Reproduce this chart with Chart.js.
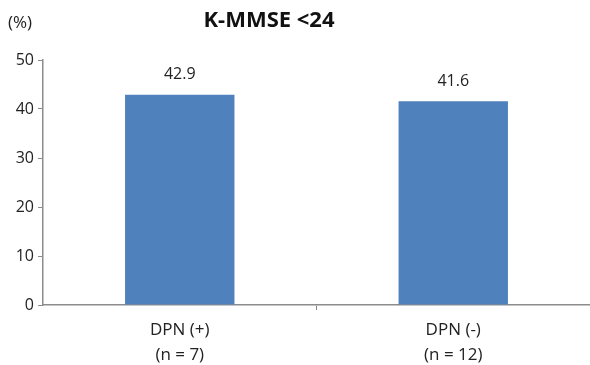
<!DOCTYPE html>
<html>
<head>
<meta charset="utf-8">
<script src="https://cdn.jsdelivr.net/npm/chart.js@4"></script>
<style>
  html, body { margin: 0; padding: 0; background: #fff; }
  #wrap { width: 590px; height: 365px; }
</style>
</head>
<body>
<div id="wrap"><canvas id="chart"></canvas></div>
<script>
const groups = [["DPN (+)", "(n = 7)"], ["DPN (-)", "(n = 12)"]];
const percents = [42.9, 41.6];
const yTicks = [0, 10, 20, 30, 40, 50];

const fontFamily = "'Open Sans', 'Noto Sans', sans-serif";

// value labels over bars, plus the title and the (%) unit
const extraText = {
    id: 'extraText',
    afterDatasetsDraw(chart) {
        const ctx = chart.ctx;
        ctx.save();
        ctx.fillStyle = '#222';
        ctx.font = "16px " + fontFamily;
        ctx.textAlign = 'center';
        ctx.textBaseline = 'bottom';
        chart.getDatasetMeta(0).data.forEach(function(bar, i) {
            ctx.fillText(percents[i].toFixed(1), bar.x, bar.y - 12);
        });
        ctx.font = "bold 22px " + fontFamily;
        ctx.fillStyle = '#111';
        ctx.textBaseline = 'middle';
        ctx.fillText("K-MMSE <24", 269, 21);
        ctx.font = "17px " + fontFamily;
        ctx.fillStyle = '#222';
        ctx.textAlign = 'left';
        ctx.fillText("(%)", 8, 23);
        ctx.restore();
    }
};

new Chart(document.getElementById("chart").getContext("2d"), {
    type: 'bar',
    data: {
        labels: groups,
        datasets: [{
            data: percents,
            backgroundColor: '#4F81BD',
            categoryPercentage: 0.4,
            barPercentage: 1.0
        }]
    },
    options: {
        responsive: true,
        maintainAspectRatio: false,
        animation: false,
        layout: { padding: { top: 60, right: 0, left: 0, bottom: 0 } },
        plugins: {
            legend: { display: false },
            tooltip: { enabled: false }
        },
        scales: {
            x: {
                grid: {
                    display: true,
                    drawOnChartArea: false,
                    color: c => (c.index === 1 ? '#868686' : 'rgba(0,0,0,0)'),
                    tickLength: 5
                },
                border: { color: '#8c8c8c', width: 1.5 },
                ticks: {
                    color: '#222',
                    font: { family: fontFamily, size: 17, lineHeight: 1.47 },
                    padding: 8,
                    maxRotation: 0
                },
                afterFit(scale) {
                    scale.height = 60;
                    scale.paddingLeft = 0;
                    scale.paddingRight = 0;
                }
            },
            y: {
                min: 0,
                max: 50,
                afterBuildTicks(scale) { scale.ticks = yTicks.map(v => ({ value: v })); },
                grid: { display: true, drawOnChartArea: false, color: '#8c8c8c', tickLength: 5 },
                border: { color: '#8c8c8c', width: 1.5 },
                ticks: { color: '#222', font: { family: fontFamily, size: 16 }, padding: 4 },
                afterFit(scale) { scale.width = 43; }
            }
        }
    },
    plugins: [extraText]
});
</script>
</body>
</html>
